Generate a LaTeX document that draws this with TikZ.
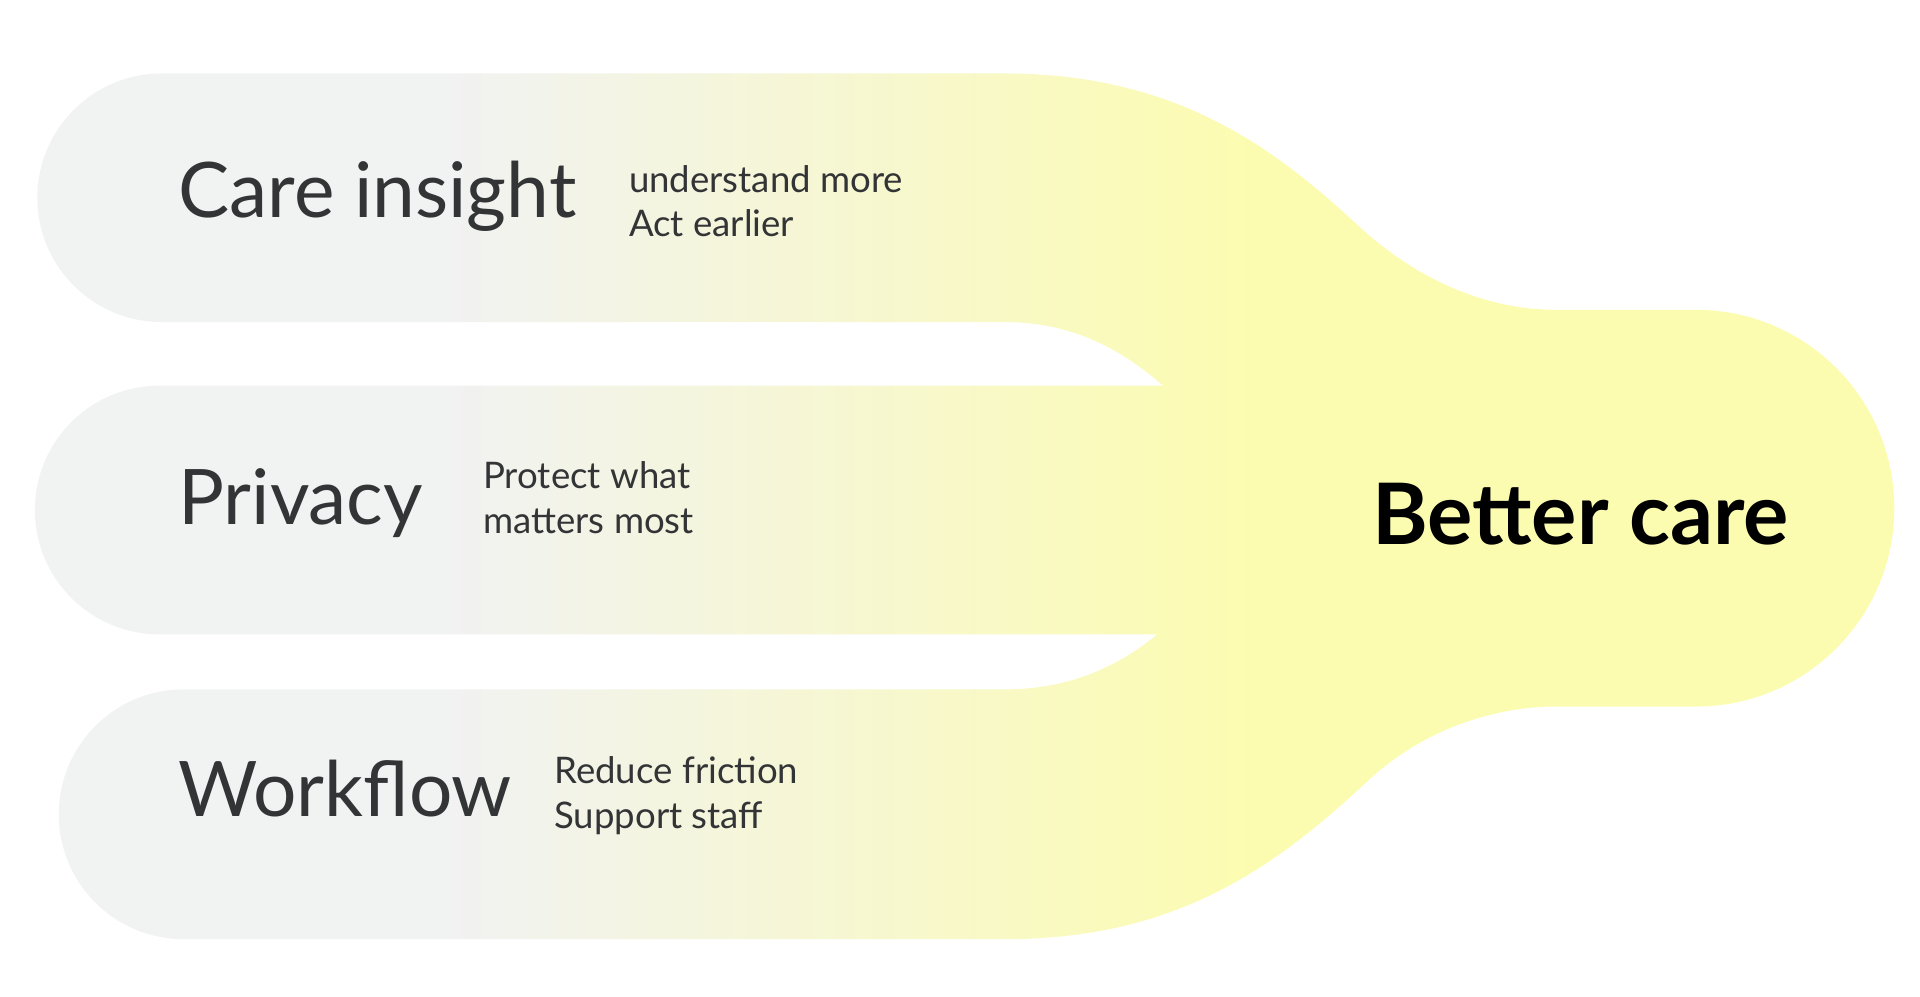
\documentclass[tikz,border=0pt]{standalone}
\usepackage{fontspec}
\setmainfont{Lato}
\definecolor{bandgray}{HTML}{F1F2F2}
\definecolor{bandyellow}{HTML}{FCFCB0}
\definecolor{inktext}{HTML}{333436}
\pgfdeclarehorizontalshading{bandshade}{100bp}{color(0bp)=(bandgray); color(36bp)=(bandgray); color(58bp)=(bandyellow); color(100bp)=(bandyellow)}
\tikzset{
    title/.style={anchor=base west,inner sep=0pt,font=\fontsize{17.8}{20}\selectfont,text=inktext},
    sub/.style={anchor=base west,inner sep=0pt,font=\fontsize{8.5}{10}\selectfont,text=inktext},
    goal/.style={anchor=base west,inner sep=0pt,font=\fontsize{19.7}{22}\selectfont\bfseries,text=black},
}
\begin{document}
\begin{tikzpicture}[x=0.01cm,y=0.01cm]
    \useasboundingbox (0,0) rectangle (1568,814);
    % merged bands
    \shade[shading=bandshade] (132,754) -- (820,754)
        .. controls (960,754) and (1040,694) .. (1110,629)
        .. controls (1170,574) and (1230,561) .. (1270,561) -- (1385,561)
        arc[start angle=90,end angle=-90,radius=162] -- (1270,237)
        .. controls (1230,237) and (1170,224) .. (1120,179)
        .. controls (1040,104) and (960,47) .. (820,47) -- (150,47)
        arc[start angle=270,end angle=90,radius=102] -- (820,251)
        .. controls (880,251) and (920,275) .. (945,296) -- (130,296)
        arc[start angle=270,end angle=90,radius=101.5] -- (950,499)
        .. controls (920,525) and (880,551) .. (820,551) -- (132,551)
        arc[start angle=270,end angle=90,radius=101.5] -- cycle;

    \node[title] (care) at (145,636) {Care insight};
    \node[sub] (care1) at (513,657) {understand more};
    \node[sub] (care2) at (513,621) {Act earlier};

    \node[title] (privacy) at (145,386) {Privacy};
    \node[sub] (privacy1) at (394,415) {Protect what};
    \node[sub] (privacy2) at (394,378) {matters most};

    \node[title] (workflow) at (145,147) {Workflow};
    \node[sub] (workflow1) at (452,174) {Reduce friction};
    \node[sub] (workflow2) at (452,137) {Support staff};

    \node[goal] (better) at (1120,369) {Better care};
\end{tikzpicture}
\end{document}
